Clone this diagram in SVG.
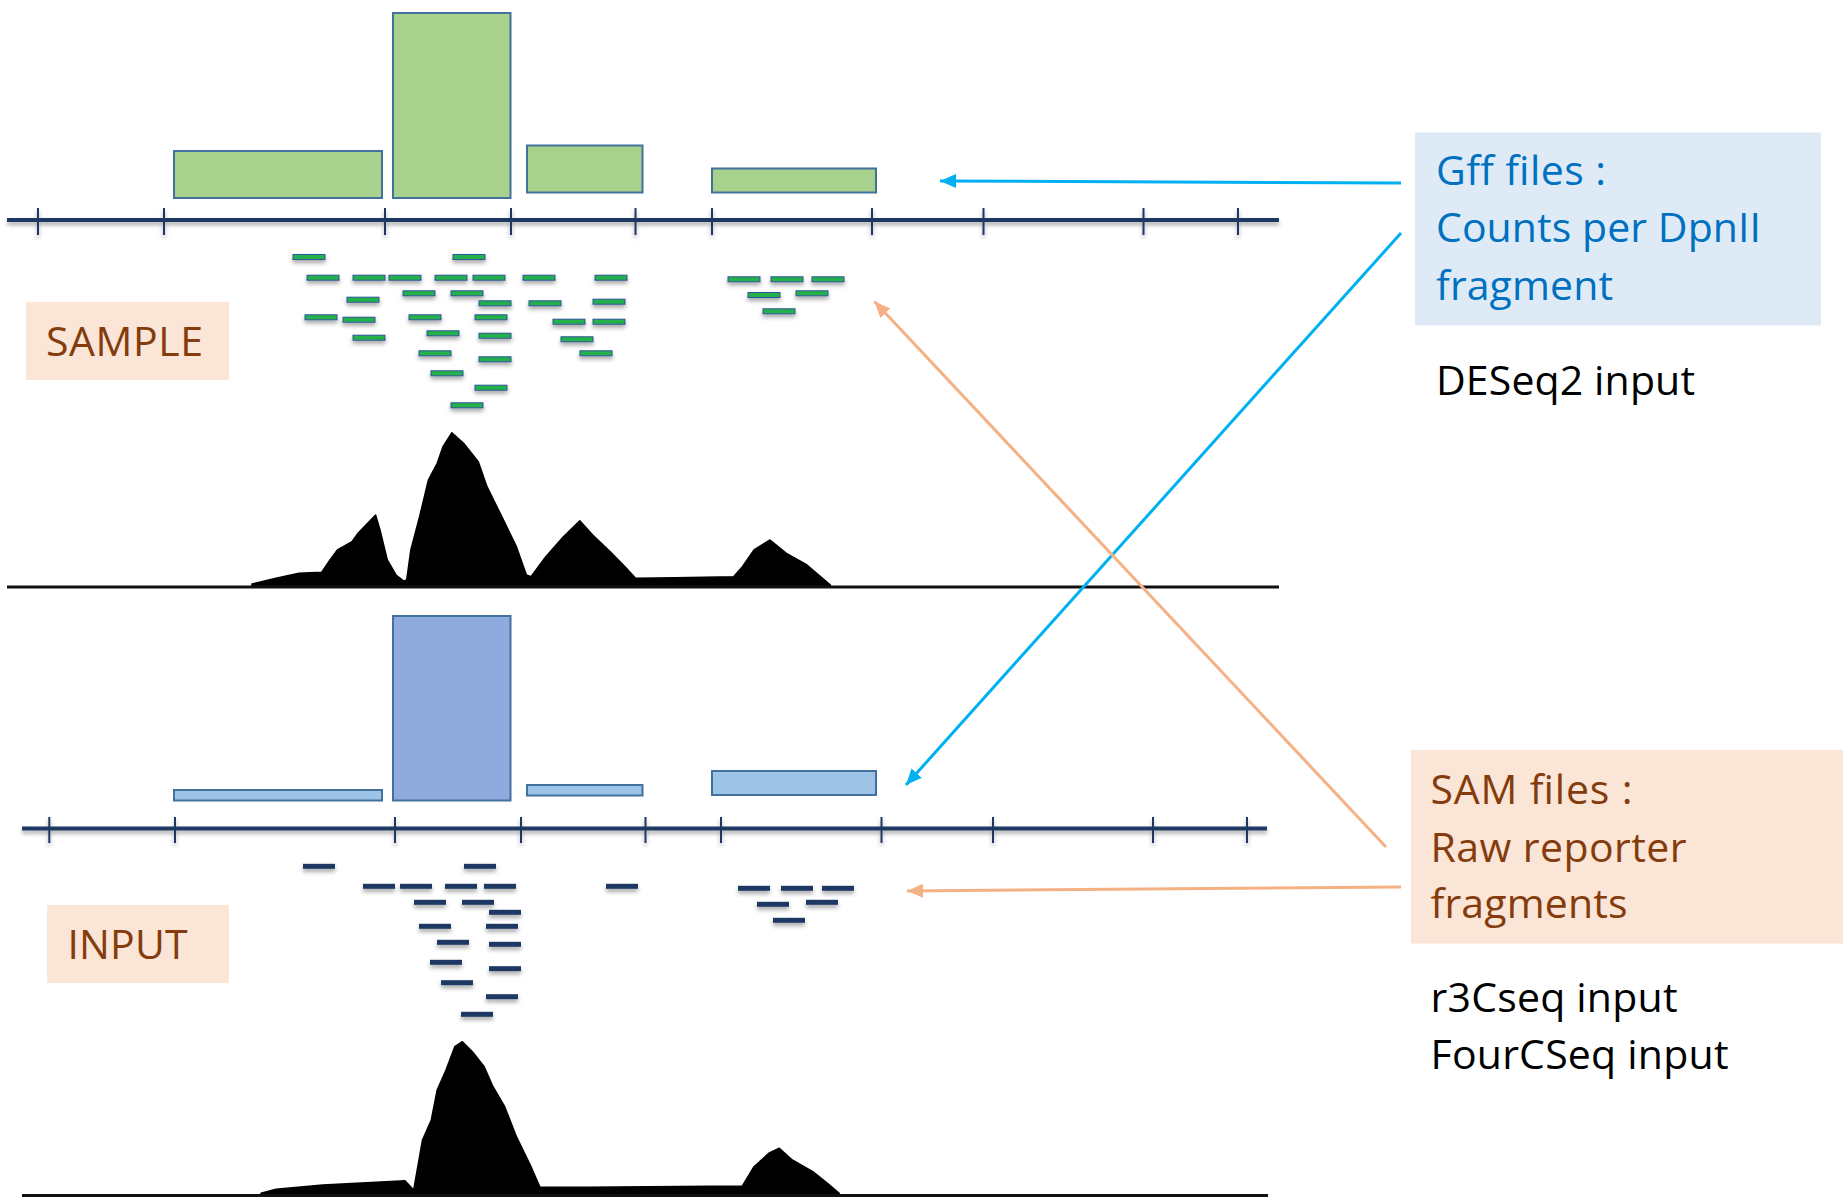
<svg xmlns="http://www.w3.org/2000/svg" width="1843" height="1201" viewBox="0 0 1843 1201">
<style>
  .bar-s{fill:#a9d18e;stroke:#41719c;stroke-width:2}
  .bar-i{fill:#9dc3e6;stroke:#41719c;stroke-width:2}
  .bar-i2{fill:#8faadc;stroke:#41719c;stroke-width:2}
  .axis{stroke:#1f3864;stroke-width:4;fill:none}
  .tick{stroke:#1f3864;stroke-width:2}
  .base{stroke:#111;stroke-width:3}
  .rs{fill:#22b14c;stroke:#2f5597;stroke-width:1}
  .ri{fill:#1f3864}
  .prof{fill:#000;stroke:#000;stroke-width:1.5;stroke-linejoin:round}
  .lbl{font-family:"Open Sans","Liberation Sans",sans-serif;font-size:41px}
  .blue{fill:#0070c0}
  .brown{fill:#843c0c}
  .blk{fill:#000}
  .cb{stroke:#00b0f0;stroke-width:3;fill:none}
  .co{stroke:#f4b183;stroke-width:3;fill:none}
</style>
<defs>
  <filter id="sh" x="-5%" y="-50%" width="110%" height="300%">
    <feDropShadow dx="0" dy="3" stdDeviation="2" flood-color="#000" flood-opacity="0.35"/>
  </filter>
  <marker id="ab" markerUnits="userSpaceOnUse" markerWidth="18" markerHeight="16" refX="16" refY="8" orient="auto">
    <path d="M0,1 L16,8 L0,15 z" fill="#00b0f0"/>
  </marker>
  <marker id="ao" markerUnits="userSpaceOnUse" markerWidth="18" markerHeight="16" refX="16" refY="8" orient="auto">
    <path d="M0,1 L16,8 L0,15 z" fill="#f4b183"/>
  </marker>
</defs>
<rect width="1843" height="1201" fill="#fff"/>

<g id="sample-panel">
  <g id="sample-bars">
    <rect class="bar-s" x="174" y="151" width="208" height="47"/>
    <rect class="bar-s" x="393" y="13" width="117.5" height="185"/>
    <rect class="bar-s" x="527" y="145.5" width="115.5" height="47"/>
    <rect class="bar-s" x="712" y="168.5" width="164" height="24"/>
  </g>
  <g id="sample-axis" filter="url(#sh)">
    <line class="axis" x1="7" y1="220" x2="1279" y2="220"/>
    <path class="tick" d="M38,208V235M164,208V235M385,208V235M511,208V235M635.5,208V235M712,208V235M872,208V235M983.5,208V235M1143.5,208V235M1238,208V235"/>
  </g>
  <g id="sample-reads" filter="url(#sh)">
    <rect class="rs" x="293" y="254.5" width="32" height="5"/>
    <rect class="rs" x="453" y="254.5" width="32" height="5"/>
    <rect class="rs" x="307" y="275.2" width="32" height="5"/>
    <rect class="rs" x="353" y="275.2" width="32" height="5"/>
    <rect class="rs" x="389" y="275.2" width="32" height="5"/>
    <rect class="rs" x="435" y="275.2" width="32" height="5"/>
    <rect class="rs" x="473" y="275.2" width="32" height="5"/>
    <rect class="rs" x="523" y="275.2" width="32" height="5"/>
    <rect class="rs" x="595" y="275.2" width="32" height="5"/>
    <rect class="rs" x="403" y="290.8" width="32" height="5"/>
    <rect class="rs" x="451" y="290.8" width="32" height="5"/>
    <rect class="rs" x="347" y="297.2" width="32" height="5"/>
    <rect class="rs" x="479" y="300.8" width="32" height="5"/>
    <rect class="rs" x="529" y="300.8" width="32" height="5"/>
    <rect class="rs" x="593" y="299.2" width="32" height="5"/>
    <rect class="rs" x="305" y="314.8" width="32" height="5"/>
    <rect class="rs" x="409" y="314.8" width="32" height="5"/>
    <rect class="rs" x="475" y="314.8" width="32" height="5"/>
    <rect class="rs" x="343" y="317.2" width="32" height="5"/>
    <rect class="rs" x="553" y="319.2" width="32" height="5"/>
    <rect class="rs" x="593" y="319.2" width="32" height="5"/>
    <rect class="rs" x="427" y="330.8" width="32" height="5"/>
    <rect class="rs" x="479" y="333.2" width="32" height="5"/>
    <rect class="rs" x="353" y="335.2" width="32" height="5"/>
    <rect class="rs" x="561" y="336.8" width="32" height="5"/>
    <rect class="rs" x="419" y="350.8" width="32" height="5"/>
    <rect class="rs" x="580" y="350.8" width="32" height="5"/>
    <rect class="rs" x="479" y="356.8" width="32" height="5"/>
    <rect class="rs" x="431" y="370.8" width="32" height="5"/>
    <rect class="rs" x="475" y="385.2" width="32" height="5"/>
    <rect class="rs" x="451" y="402.8" width="32" height="5"/>
    <rect class="rs" x="728" y="276.8" width="32" height="5"/>
    <rect class="rs" x="771" y="276.8" width="32" height="5"/>
    <rect class="rs" x="812" y="276.8" width="32" height="5"/>
    <rect class="rs" x="748" y="292.5" width="32" height="5"/>
    <rect class="rs" x="796" y="290.8" width="32" height="5"/>
    <rect class="rs" x="763" y="308.8" width="32" height="5"/>
  </g>
  <g id="sample-profile">
    <line x1="7" y1="591" x2="1279" y2="591" stroke="#999" stroke-width="4" filter="url(#sh)" opacity="0.6"/>
    <path class="prof" d="M252,587 L252,584 L276,578.3 L299,573.3 L321.6,572.3 L330,560 L337.4,550 L352,541.7 L358,533.3 L375.6,515 L380,530 L387.3,560 L396,575 L403.8,581 L406.7,580 L410.8,550 L419.6,516.7 L428.4,480 L437.2,463.3 L443,446.7 L451.9,432.7 L463.6,443.3 L478.3,461.7 L487,486.7 L501.8,516.7 L516.4,546.7 L526.4,575 L531,576.7 L545.8,556.7 L563.4,536.7 L579.8,520.7 L592.7,535 L610.3,551.7 L625,566.7 L635.6,578.3 L675,577.7 L733.6,576.7 L742.4,566.7 L754,550 L770,540 L786.4,553.3 L807,565 L818.7,575 L830.4,585 L830.4,587 Z"/>
    <line class="base" x1="7" y1="587" x2="1279" y2="587"/>
  </g>
  <g id="sample-label">
    <rect x="26" y="302" width="203" height="78" fill="#fbe5d6"/>
    <text class="lbl brown" x="46" y="356" font-size="40" textLength="157">SAMPLE</text>
  </g>
</g>

<g id="input-panel">
  <g id="input-bars">
    <rect class="bar-i" x="174" y="790" width="208" height="10.5"/>
    <rect class="bar-i2" x="393" y="616" width="117.5" height="184.5"/>
    <rect class="bar-i" x="527" y="785" width="115.5" height="10.5"/>
    <rect class="bar-i" x="712" y="771" width="164" height="24"/>
  </g>
  <g id="input-axis" filter="url(#sh)">
    <line class="axis" x1="22" y1="828.5" x2="1267" y2="828.5"/>
    <path class="tick" d="M49.3,817V843M175,817V843M395,817V843M521,817V843M645.5,817V843M721,817V843M881.5,817V843M993,817V843M1153,817V843M1247,817V843"/>
  </g>
  <g id="input-reads" filter="url(#sh)">
    <rect class="ri" x="303" y="863.8" width="32" height="5"/>
    <rect class="ri" x="464" y="863.8" width="32" height="5"/>
    <rect class="ri" x="363" y="883.8" width="32" height="5"/>
    <rect class="ri" x="400" y="883.8" width="32" height="5"/>
    <rect class="ri" x="445" y="883.8" width="32" height="5"/>
    <rect class="ri" x="484" y="883.8" width="32" height="5"/>
    <rect class="ri" x="606" y="883.8" width="32" height="5"/>
    <rect class="ri" x="738" y="885.8" width="32" height="5"/>
    <rect class="ri" x="781" y="885.8" width="32" height="5"/>
    <rect class="ri" x="822" y="885.8" width="32" height="5"/>
    <rect class="ri" x="414" y="899.8" width="32" height="5"/>
    <rect class="ri" x="462" y="899.8" width="32" height="5"/>
    <rect class="ri" x="757" y="901.8" width="32" height="5"/>
    <rect class="ri" x="806" y="899.8" width="32" height="5"/>
    <rect class="ri" x="489" y="909.8" width="32" height="5"/>
    <rect class="ri" x="773" y="917.8" width="32" height="5"/>
    <rect class="ri" x="419" y="923.8" width="32" height="5"/>
    <rect class="ri" x="486" y="923.8" width="32" height="5"/>
    <rect class="ri" x="437" y="939.8" width="32" height="5"/>
    <rect class="ri" x="489" y="941.8" width="32" height="5"/>
    <rect class="ri" x="430" y="959.8" width="32" height="5"/>
    <rect class="ri" x="489" y="966.2" width="32" height="5"/>
    <rect class="ri" x="441" y="980.2" width="32" height="5"/>
    <rect class="ri" x="486" y="994.2" width="32" height="5"/>
    <rect class="ri" x="461" y="1011.8" width="32" height="5"/>
  </g>
  <g id="input-profile">
    <line x1="22" y1="1199" x2="1268" y2="1199" stroke="#999" stroke-width="4" filter="url(#sh)" opacity="0.6"/>
    <path class="prof" d="M261,1196 L261,1193.3 L276,1189.3 L322.8,1185 L405,1180.7 L413.7,1190 L417.8,1166.7 L422.5,1140 L431.3,1120 L437.2,1090 L446,1070 L454.8,1046.7 L462.4,1041.7 L472.4,1051.7 L484.2,1066.7 L493,1086.7 L504.7,1106.7 L516.4,1136.7 L531,1166.7 L540,1187.3 L587,1187.3 L742.4,1186 L754,1166.7 L768.8,1153.3 L779.3,1148.3 L792.3,1160 L812.8,1171.7 L827.5,1183.3 L839.2,1193.3 L839.2,1196 Z"/>
    <line class="base" x1="22" y1="1195.5" x2="1268" y2="1195.5"/>
  </g>
  <g id="input-label">
    <rect x="47" y="905" width="182" height="78" fill="#fbe5d6"/>
    <text class="lbl brown" x="67.5" y="959" font-size="40" textLength="120">INPUT</text>
  </g>
</g>

<g id="gff-node">
  <rect x="1415" y="132.5" width="406" height="193" fill="#deebf7"/>
  <text class="lbl blue" x="1436" y="185" textLength="170">Gff files :</text>
  <text class="lbl blue" x="1436" y="242" textLength="325">Counts per DpnII</text>
  <text class="lbl blue" x="1436" y="300" textLength="177">fragment</text>
</g>
<g id="deseq-note">
  <text class="lbl blk" x="1436" y="395" textLength="259">DESeq2 input</text>
</g>

<g id="sam-node">
  <rect x="1411" y="750" width="432" height="193.5" fill="#fbe5d6"/>
  <text class="lbl brown" x="1430.5" y="804" textLength="202">SAM files :</text>
  <text class="lbl brown" x="1430.5" y="861.5" textLength="256">Raw reporter</text>
  <text class="lbl brown" x="1430.5" y="918" textLength="197">fragments</text>
</g>
<g id="r3c-note">
  <text class="lbl blk" x="1430.5" y="1011.5" textLength="247">r3Cseq input</text>
  <text class="lbl blk" x="1430.5" y="1068.5" textLength="298">FourCSeq input</text>
</g>

<g id="connectors">
  <line class="cb" x1="1401" y1="183" x2="940" y2="181" marker-end="url(#ab)"/>
  <line class="cb" x1="1401" y1="233" x2="906" y2="785" marker-end="url(#ab)"/>
  <line class="co" x1="1386" y1="847" x2="874.5" y2="301.5" stroke-width="2.5" marker-end="url(#ao)"/>
  <line class="co" x1="1401" y1="887" x2="907" y2="891" marker-end="url(#ao)"/>
</g>
</svg>
